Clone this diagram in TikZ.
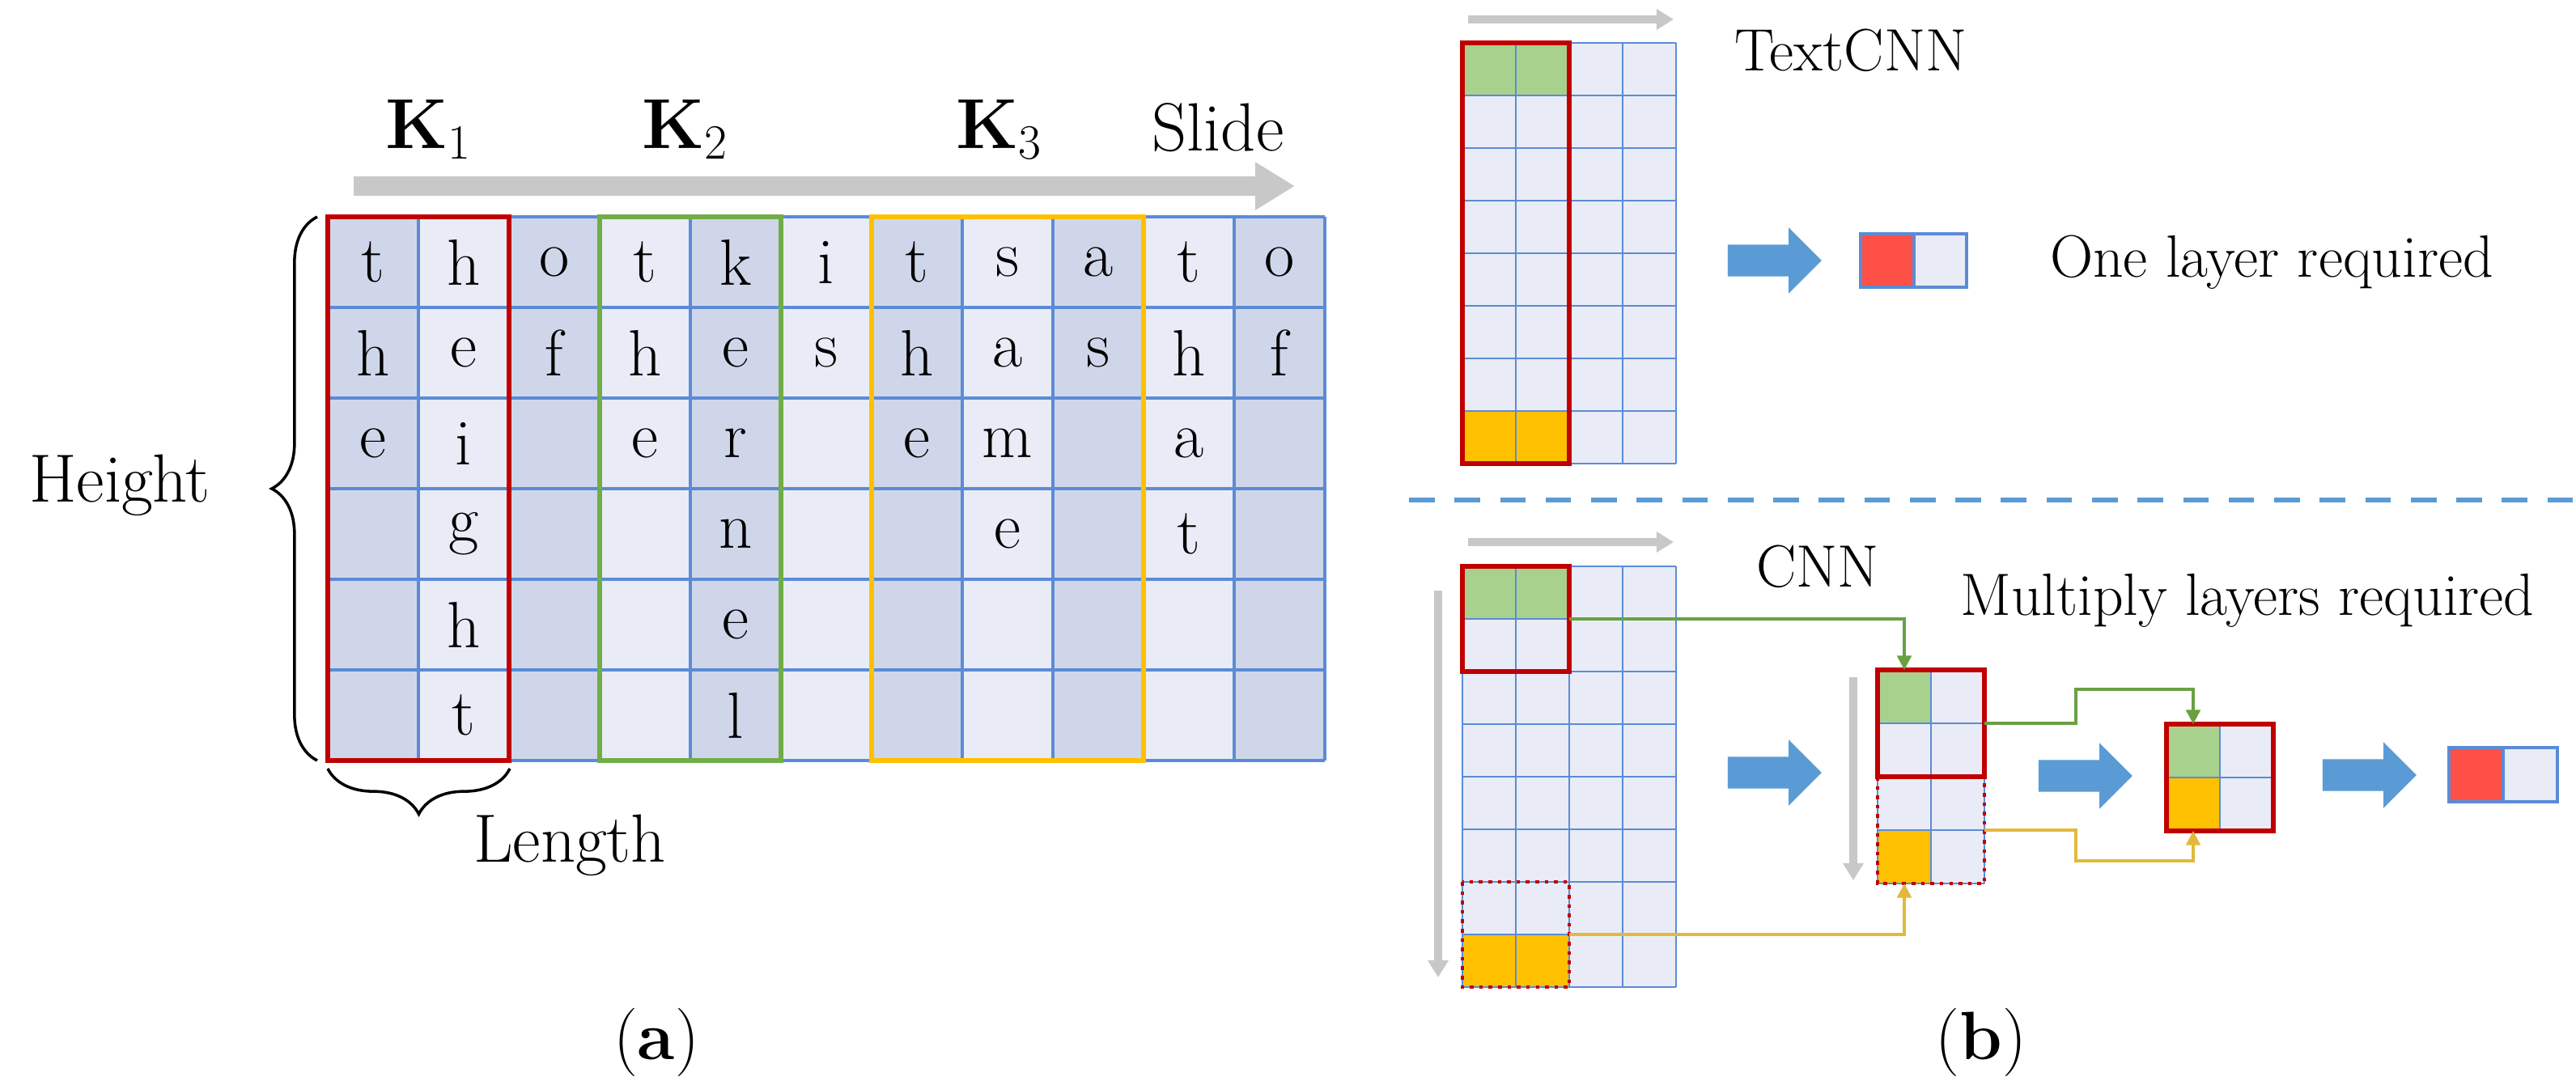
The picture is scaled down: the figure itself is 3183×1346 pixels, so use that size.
\documentclass[tikz,border=0pt]{standalone}
\usepackage{tikz}
\usetikzlibrary{shapes.arrows,decorations.pathreplacing,arrows.meta}
\definecolor{celldark}{HTML}{D0D6EA}
\definecolor{celllight}{HTML}{E9ECF6}
\definecolor{gridblue}{HTML}{5B8BD6}
\definecolor{boxred}{HTML}{C00000}
\definecolor{boxgreen}{HTML}{70AD47}
\definecolor{boxyellow}{HTML}{FFC000}
\definecolor{fillgreen}{HTML}{A9D18E}
\definecolor{arrowblue}{HTML}{5B9BD5}
\definecolor{outred}{HTML}{FF5048}
\definecolor{slidegray}{HTML}{C8C8C8}
\definecolor{linkyellow}{HTML}{E2B93B}
\definecolor{linkgreen}{HTML}{6AA043}
\tikzset{
  grid line/.style={gridblue, line width=1pt},
  kernel/.style={line width=1.8pt},
  dotbox/.style={boxred, line width=1.3pt, dotted},
  slide/.style={slidegray, line width=7pt, -{Triangle[length=14pt,width=16pt]}},
  thin slide/.style={slidegray, line width=3pt, -{Triangle[length=6pt,width=7pt]}},
  block/.style={single arrow, fill=arrowblue, draw=none, minimum height=1.16cm,
    single arrow head extend=0.21cm, inner sep=0pt, single arrow tip angle=90},
  link/.style={line width=1pt, -{Triangle[length=5pt,width=5pt]}},
  big/.style={font=\fontsize{24}{28}\selectfont},
  small/.style={font=\fontsize{21}{25}\selectfont},
  letter/.style={font=\fontsize{23}{27}\selectfont}
}
\newcommand{\shaft}{\rule{0pt}{0.38cm}}
\begin{document}
\begin{tikzpicture}[x=0.01cm,y=-0.01cm]
\useasboundingbox (0,0) rectangle (3183,1346);
% (a) sliding kernels over the text
\foreach \c in {1,...,11}{
  \pgfmathsetmacro{\xa}{405+(\c-1)*112}
  \pgfmathparse{mod(\c,2)==1?"celldark":"celllight"}
  \fill[\pgfmathresult] (\xa,268) rectangle ++(112,672);
}
\foreach \c in {0,...,11}{ \draw[grid line] (405+\c*112,268) -- ++(0,672); }
\foreach \r in {0,...,6}{ \draw[grid line] (405,268+\r*112) -- ++(1232,0); }
\foreach \c/\w in {1/{t,h,e},2/{h,e,i,g,h,t},3/{o,f},4/{t,h,e},5/{k,e,r,n,e,l},
  6/{i,s},7/{t,h,e},8/{s,a,m,e},9/{a,s},10/{t,h,a,t},11/{o,f}}{
  \foreach \ch [count=\r] in \w{
    \node[letter] (l\c\r) at (349+\c*112,212+\r*112) {\ch};
  }
}
\draw[kernel, boxred] (405,268) rectangle ++(224,672);
\draw[kernel, boxgreen] (741,268) rectangle ++(224,672);
\draw[kernel, boxyellow] (1077,268) rectangle ++(336,672);
\coordinate (sa) at (437,230);
\coordinate (sb) at (1600,230);
\draw[slide] (sa) -- (sb);
\node[font=\fontsize{26}{30}\selectfont] (k1) at (530,160) {$\mathbf{K}_1$};
\node[font=\fontsize{26}{30}\selectfont] (k2) at (847,160) {$\mathbf{K}_2$};
\node[font=\fontsize{26}{30}\selectfont] (k3) at (1235,160) {$\mathbf{K}_3$};
\node[big] (slide) at (1505,158) {Slide};
\draw[decorate, decoration={brace, amplitude=16pt}, line width=1pt] (392,940) -- (392,268);
\node[big] (height) at (148,600) {Height};
\draw[decorate, decoration={brace, amplitude=16pt}, line width=1pt] (630,950) -- (405,950);
\node[big] (length) at (704,1045) {Length};
\node[big] (cap a) at (811,1288) {(\textbf{a})};
% (b) TextCNN
\fill[celllight] (1807,53) rectangle ++(264,520);
\fill[fillgreen] (1807,53) rectangle ++(132,65);
\fill[boxyellow] (1807,508) rectangle ++(132,65);
\foreach \c in {0,...,4}{ \draw[gridblue, line width=0.8pt] (1807+\c*66,53) -- ++(0,520); }
\foreach \r in {0,...,8}{ \draw[gridblue, line width=0.8pt] (1807,53+\r*65) -- ++(264,0); }
\draw[kernel, boxred] (1807,53) rectangle ++(132,520);
\coordinate (ta) at (1814,24);
\coordinate (tb) at (2068,24);
\draw[thin slide] (ta) -- (tb);
\node[small] (textcnn) at (2287,62) {TextCNN};
\node[block] (arr0) at (2183,322) {\shaft};
\fill[outred] (2299,289) rectangle ++(66,66);
\fill[celllight] (2365,289) rectangle ++(65,66);
\draw[gridblue, line width=1pt] (2299,289) rectangle ++(131,66) (2365,289) -- ++(0,66);
\node[small] (one) at (2807,324) {One layer required};
\draw[arrowblue, line width=1.5pt, dash pattern=on 9pt off 7pt] (1741,618) -- (3183,618);
% (b) CNN
\fill[celllight] (1807,700) rectangle ++(264,520);
\fill[fillgreen] (1807,700) rectangle ++(132,65);
\fill[boxyellow] (1807,1155) rectangle ++(132,65);
\foreach \c in {0,...,4}{ \draw[gridblue, line width=0.8pt] (1807+\c*66,700) -- ++(0,520); }
\foreach \r in {0,...,8}{ \draw[gridblue, line width=0.8pt] (1807,700+\r*65) -- ++(264,0); }
\draw[kernel, boxred] (1807,700) rectangle ++(132,130);
\draw[dotbox] (1807,1090) rectangle ++(132,130);
\coordinate (ca) at (1814,670);
\coordinate (cb) at (2068,670);
\draw[thin slide] (ca) -- (cb);
\coordinate (va) at (1777,730);
\coordinate (vb) at (1777,1208);
\draw[thin slide] (va) -- (vb);
\node[small] (cnn) at (2246,700) {CNN};
\node[small] (multi) at (2777,742) {Multiply layers required};
\node[block] (arr1) at (2183,955) {\shaft};
% second layer
\fill[celllight] (2320,828) rectangle ++(132,264);
\fill[fillgreen] (2320,828) rectangle ++(66,66);
\fill[boxyellow] (2320,1026) rectangle ++(66,66);
\foreach \c in {0,...,2}{ \draw[gridblue, line width=0.8pt] (2320+\c*66,828) -- ++(0,264); }
\foreach \r in {0,...,4}{ \draw[gridblue, line width=0.8pt] (2320,828+\r*66) -- ++(132,0); }
\draw[kernel, boxred] (2320,828) rectangle ++(132,132);
\draw[dotbox] (2320,960) rectangle ++(132,132);
\coordinate (wa) at (2290,837);
\coordinate (wb) at (2290,1088);
\draw[thin slide] (wa) -- (wb);
\node[block] (arr2) at (2567,959) {\shaft};
% third layer
\fill[celllight] (2677,895) rectangle ++(132,132);
\fill[fillgreen] (2677,895) rectangle ++(66,66);
\fill[boxyellow] (2677,961) rectangle ++(66,66);
\draw[gridblue, line width=0.8pt] (2743,895) -- ++(0,132) (2677,961) -- ++(132,0);
\draw[kernel, boxred] (2677,895) rectangle ++(132,132);
\node[block] (arr3) at (2918,958) {\shaft};
\fill[outred] (3026,924) rectangle ++(67,67);
\fill[celllight] (3093,924) rectangle ++(67,67);
\draw[gridblue, line width=1pt] (3026,924) rectangle ++(134,67) (3093,924) -- ++(0,67);
\node[big] (cap b) at (2448,1288) {(\textbf{b})};
% links between layers
\coordinate (g1) at (1939,765);
\coordinate (g2) at (2353,828);
\coordinate (g3) at (2452,894);
\coordinate (g4) at (2710,895);
\coordinate (y1) at (1939,1155);
\coordinate (y2) at (2353,1092);
\coordinate (y3) at (2452,1026);
\coordinate (y4) at (2710,1027);
\draw[link, linkgreen] (g1) -| (g2);
\draw[link, linkgreen] (g3) -- (2565,894) |- (2710,852) -- (g4);
\draw[link, linkyellow] (y1) -| (y2);
\draw[link, linkyellow] (y3) -- (2565,1026) |- (2710,1064) -- (y4);
\end{tikzpicture}
\end{document}
